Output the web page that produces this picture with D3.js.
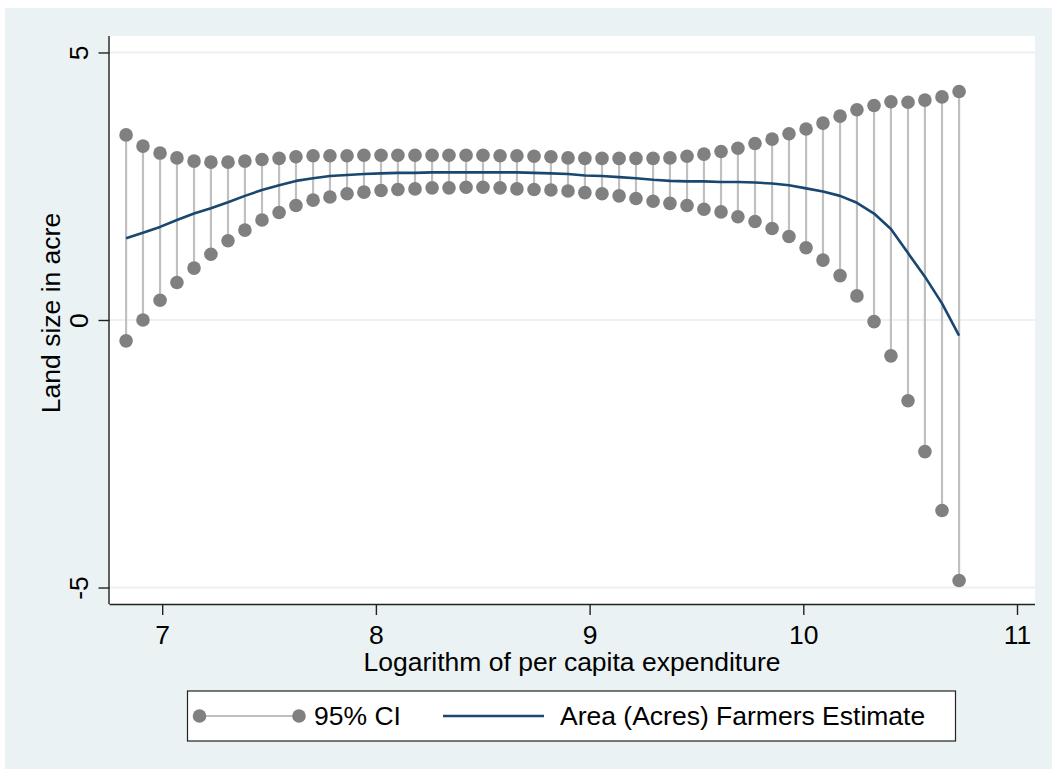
<!DOCTYPE html>
<html>
<head>
<meta charset="utf-8">
<script src="https://cdn.jsdelivr.net/npm/d3@7"></script>
<style>
  html, body { margin: 0; padding: 0; background: #ffffff; }
  svg { display: block; }
  text { font-family: "Liberation Sans", Arial, Helvetica, sans-serif; fill: #000; }
</style>
</head>
<body>
<svg id="chart" width="1052" height="769"></svg>
<script>
// ---- Data ----
const xValues = [6.831, 6.910, 6.990, 7.069, 7.149, 7.228, 7.308, 7.387, 7.467, 7.547,
                 7.626, 7.706, 7.785, 7.865, 7.944, 8.024, 8.103, 8.183, 8.263, 8.342,
                 8.422, 8.501, 8.581, 8.660, 8.740, 8.819, 8.899, 8.978, 9.058, 9.138,
                 9.217, 9.297, 9.376, 9.456, 9.535, 9.615, 9.694, 9.774, 9.854, 9.933,
                 10.013, 10.092, 10.172, 10.251, 10.331, 10.410, 10.490, 10.569, 10.649, 10.729];
const ciUpper = [3.46, 3.25, 3.12, 3.03, 2.97, 2.95, 2.95, 2.97, 3.00, 3.02,
                 3.05, 3.07, 3.07, 3.07, 3.08, 3.08, 3.08, 3.08, 3.08, 3.08,
                 3.08, 3.08, 3.07, 3.07, 3.06, 3.05, 3.03, 3.02, 3.02, 3.02,
                 3.02, 3.02, 3.03, 3.06, 3.10, 3.15, 3.21, 3.30, 3.38, 3.48,
                 3.57, 3.68, 3.81, 3.93, 4.01, 4.08, 4.07, 4.11, 4.17, 4.27];
const ciLower = [-0.39, 0.00, 0.37, 0.70, 0.97, 1.23, 1.48, 1.68, 1.87, 2.01,
                 2.14, 2.24, 2.30, 2.36, 2.39, 2.42, 2.44, 2.45, 2.47, 2.47,
                 2.48, 2.48, 2.47, 2.45, 2.44, 2.43, 2.41, 2.38, 2.36, 2.32,
                 2.27, 2.22, 2.18, 2.14, 2.07, 2.02, 1.93, 1.84, 1.71, 1.56,
                 1.35, 1.12, 0.83, 0.45, -0.03, -0.67, -1.51, -2.46, -3.56, -4.87];
const estimate = [1.53, 1.63, 1.74, 1.87, 1.99, 2.09, 2.20, 2.32, 2.43, 2.52,
                  2.60, 2.65, 2.69, 2.71, 2.73, 2.74, 2.75, 2.75, 2.76, 2.76,
                  2.76, 2.76, 2.76, 2.76, 2.75, 2.74, 2.73, 2.70, 2.69, 2.67,
                  2.65, 2.62, 2.60, 2.59, 2.59, 2.58, 2.58, 2.57, 2.55, 2.52,
                  2.46, 2.40, 2.32, 2.19, 1.99, 1.70, 1.25, 0.81, 0.31, -0.29];
const xTicks = [7, 8, 9, 10, 11];
const yTicks = [-5, 0, 5];
const xTitle = "Logarithm of per capita expenditure";
const yTitle = "Land size in acre";
const legendLabels = ["95% CI", "Area (Acres) Farmers Estimate"];

// ---- Layout ----
const W = 1052, H = 769;
const plot = { left: 109.5, right: 1035, top: 36, bottom: 604 };
const colors = { bg: "#EAF2F3", grid: "#EAF2F3", marker: "#808080", spike: "#C0C0C0", line: "#1A476F" };
const fontSize = 26.5;
const fontFam = "Liberation Sans, Arial, sans-serif";

const svg = d3.select("#chart");

// outer graph region
svg.append("rect").attr("x", 5).attr("y", 8).attr("width", W - 5).attr("height", H - 8)
   .attr("fill", colors.bg);
// plot region
svg.append("rect").attr("x", plot.left).attr("y", plot.top)
   .attr("width", plot.right - plot.left).attr("height", plot.bottom - plot.top)
   .attr("fill", "#ffffff");

const x = d3.scaleLinear().domain([6.7534, 11.0842]).range([plot.left, plot.right]);
const y = d3.scaleLinear().domain([-5.308, 5.308]).range([plot.bottom, plot.top]);

// gridlines
svg.append("g").selectAll("line").data(yTicks).join("line")
   .attr("x1", plot.left).attr("x2", plot.right)
   .attr("y1", d => y(d)).attr("y2", d => y(d))
   .attr("stroke", colors.grid).attr("stroke-width", 1.8);

const data = xValues.map((v, i) => ({ x: v, lo: ciLower[i], hi: ciUpper[i], est: estimate[i] }));

// CI spikes
svg.append("g").selectAll("line").data(data).join("line")
   .attr("x1", d => x(d.x)).attr("x2", d => x(d.x))
   .attr("y1", d => y(d.lo)).attr("y2", d => y(d.hi))
   .attr("stroke", colors.spike).attr("stroke-width", 2.2);

// CI end markers
const mg = svg.append("g");
mg.selectAll("circle.hi").data(data).join("circle").attr("class", "hi")
  .attr("cx", d => x(d.x)).attr("cy", d => y(d.hi)).attr("r", 6.8).attr("fill", colors.marker);
mg.selectAll("circle.lo").data(data).join("circle").attr("class", "lo")
  .attr("cx", d => x(d.x)).attr("cy", d => y(d.lo)).attr("r", 6.8).attr("fill", colors.marker);

// estimate line
svg.append("path").datum(data)
   .attr("d", d3.line().x(d => x(d.x)).y(d => y(d.est)))
   .attr("fill", "none").attr("stroke", colors.line).attr("stroke-width", 2.6)
   .attr("stroke-linejoin", "round");

// axes
const fmt = d => String(d);
const xAxis = d3.axisBottom(x).tickValues(xTicks).tickSize(11).tickPadding(10).tickFormat(fmt);
const gx = svg.append("g").attr("transform", `translate(0,${plot.bottom})`).call(xAxis);
gx.select(".domain").attr("d", `M${plot.left},0.5H${plot.right}`).attr("stroke", "#222").attr("stroke-width", 1.4);
gx.selectAll(".tick line").attr("stroke", "#222").attr("stroke-width", 1.4);
gx.selectAll(".tick text").attr("font-size", fontSize).attr("font-family", fontFam).attr("fill", "#000");

const yAxis = d3.axisLeft(y).tickValues(yTicks).tickSize(11).tickPadding(0).tickFormat(fmt);
const gy = svg.append("g").attr("transform", `translate(${plot.left},0)`).call(yAxis);
gy.select(".domain").attr("d", `M-0.5,${plot.top}V${plot.bottom}`).attr("stroke", "#222").attr("stroke-width", 1.4);
gy.selectAll(".tick line").attr("stroke", "#222").attr("stroke-width", 1.4);
gy.selectAll(".tick text")
  .attr("font-size", fontSize).attr("font-family", fontFam).attr("fill", "#000")
  .attr("x", null).attr("dy", null)
  .attr("text-anchor", "middle")
  .attr("transform", "translate(-21.5,0) rotate(-90)");

// axis titles
svg.append("text").attr("x", 572).attr("y", 671).attr("text-anchor", "middle")
   .attr("font-size", fontSize).text(xTitle);
svg.append("text").attr("transform", "translate(59.5,313) rotate(-90)").attr("text-anchor", "middle")
   .attr("font-size", fontSize).text(yTitle);

// legend
const lg = svg.append("g");
lg.append("rect").attr("x", 187.5).attr("y", 691).attr("width", 768).attr("height", 50)
  .attr("fill", "#ffffff").attr("stroke", "#222").attr("stroke-width", 1.2);
const ly = 716;
lg.append("line").attr("x1", 199.5).attr("x2", 299).attr("y1", ly).attr("y2", ly)
  .attr("stroke", colors.spike).attr("stroke-width", 2.2);
lg.append("circle").attr("cx", 199.5).attr("cy", ly).attr("r", 6.8).attr("fill", colors.marker);
lg.append("circle").attr("cx", 299).attr("cy", ly).attr("r", 6.8).attr("fill", colors.marker);
lg.append("text").attr("x", 314).attr("y", ly + 9).attr("font-size", fontSize).text(legendLabels[0]);
lg.append("line").attr("x1", 443).attr("x2", 544).attr("y1", ly).attr("y2", ly)
  .attr("stroke", colors.line).attr("stroke-width", 2.6);
lg.append("text").attr("x", 560).attr("y", ly + 9).attr("font-size", fontSize).text(legendLabels[1]);
</script>
</body>
</html>
